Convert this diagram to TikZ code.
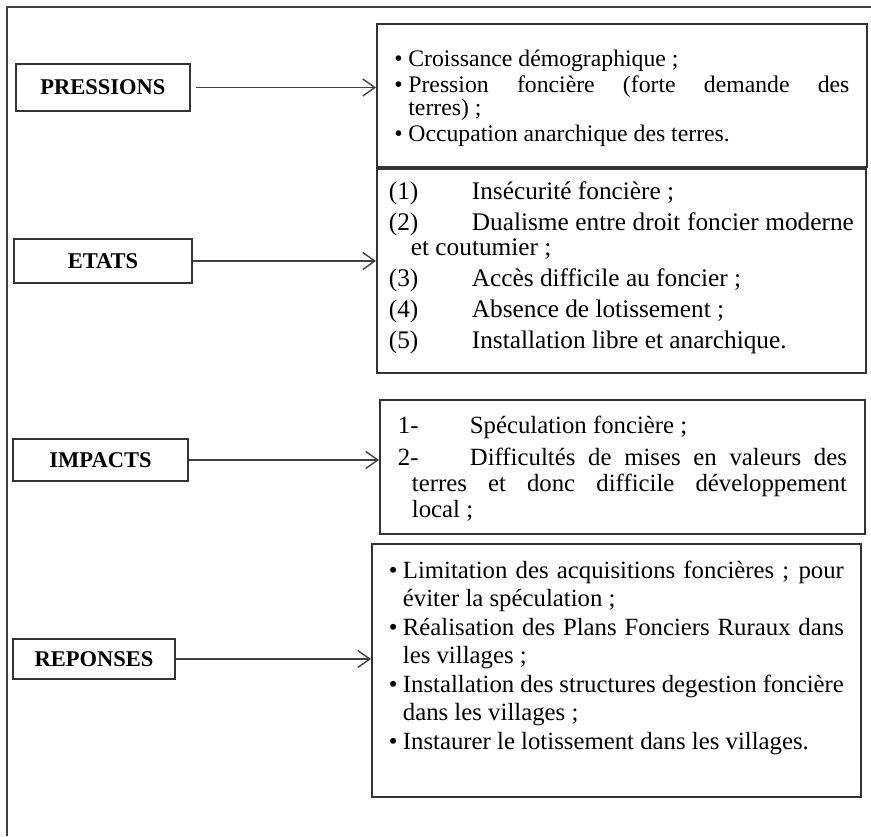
\documentclass[tikz,border=0pt]{standalone}
\usepackage{fontspec}
\setmainfont{Liberation Serif}
\usetikzlibrary{arrows.meta,
    positioning}

% paragraphe avec etiquette et retrait des lignes suivantes
\newcommand{\ligne}[3]{\noindent\leftskip=#1\relax\hspace*{-#1}\makebox[#2][l]{#3}}

\begin{document}
\begin{tikzpicture}[
    theme/.style={draw=black!80, line width=1pt, inner sep=0pt,
      font=\fontsize{12.8}{15}\selectfont\bfseries},
    detail/.style={draw=black!80, line width=1pt, align=justify, inner ysep=0pt,
      anchor=north west},
    link/.style={draw=black!75, line width=0.8pt,
      -{Straight Barb[length=2.4mm,width=3.4mm]}}
  ]
  \useasboundingbox (0,0) rectangle (17.42,-16.72);
  % cadre
  \draw[black!75, line width=1.2pt] (0.14,-16.72) -- (0.14,-0.14) -- (17.42,-0.14);

  % themes
  \node[theme, minimum width=3.48cm, minimum height=0.94cm] (pressions) at (2.06,-1.75) {PRESSIONS};
  \node[theme, minimum width=3.56cm, minimum height=0.88cm] (etats) at (2.06,-5.22) {ETATS};
  \node[theme, minimum width=3.5cm, minimum height=0.84cm] (impacts) at (2.01,-9.2) {IMPACTS};
  \node[theme, minimum width=3.24cm, minimum height=0.8cm] (reponses) at (1.88,-13.18) {REPONSES};

  % details
  \node[detail, text width=9.1cm, inner xsep=0.35cm, text height=0.86cm, text depth=2.0cm,
    font={\fontsize{13.5}{13.4}\selectfont\setlength{\parskip}{1pt}}] (pBox) at (7.52,-0.46) {%
    \ligne{0.28cm}{0.28cm}{\textbullet}Croissance démographique ;\par
    \ligne{0.28cm}{0.28cm}{\textbullet}Pression foncière (forte demande des\linebreak terres) ;\par
    \ligne{0.28cm}{0.28cm}{\textbullet}Occupation anarchique des terres.\par};
  \node[detail, text width=9.3cm, inner xsep=0.24cm, text height=0.62cm, text depth=3.46cm,
    font={\fontsize{14.4}{14.2}\selectfont\setlength{\parskip}{3.4pt}}] (eBox) at (pBox.south west) {%
    \ligne{0.44cm}{1.66cm}{(1)}Insécurité foncière ;\par
    \ligne{0.44cm}{1.66cm}{(2)}Dualisme entre droit foncier moderne\linebreak et coutumier ;\par
    \ligne{0.44cm}{1.66cm}{(3)}Accès difficile au foncier ;\par
    \ligne{0.44cm}{1.66cm}{(4)}Absence de lotissement ;\par
    \ligne{0.44cm}{1.66cm}{(5)}Installation libre et anarchique.\par};
  \node[detail, text width=8.98cm, inner xsep=0.36cm, text height=0.68cm, text depth=2.0cm,
    font={\fontsize{14.1}{14.8}\selectfont\setlength{\parskip}{3.4pt}}] (iBox) at (7.58,-7.98) {%
    \ligne{0.28cm}{1.44cm}{1-}Spéculation foncière ;\par
    \ligne{0.28cm}{1.44cm}{2-}Difficultés de mises en valeurs des\linebreak terres et donc difficile développement\linebreak local ;\par};
  \node[detail, text width=9.1cm, inner xsep=0.34cm, text height=0.7cm, text depth=4.36cm,
    font={\fontsize{14.1}{15.9}\selectfont\setlength{\parskip}{0.6pt}}] (rBox) at (7.42,-10.86) {%
    \ligne{0.28cm}{0.28cm}{\textbullet}Limitation des acquisitions foncières ; pour\linebreak éviter la spéculation ;\par
    \ligne{0.28cm}{0.28cm}{\textbullet}Réalisation des Plans Fonciers Ruraux dans\linebreak les villages ;\par
    \ligne{0.28cm}{0.28cm}{\textbullet}Installation des structures degestion foncière\linebreak dans les villages ;\par
    \ligne{0.28cm}{0.28cm}{\textbullet}Instaurer le lotissement dans les villages.\par};

  % fleches
  \draw[link, shorten <=0.1cm] (pressions.east) -- (pressions.east -| pBox.west);
  \draw[link] (etats.east) -- (etats.east -| eBox.west);
  \draw[link] (impacts.east) -- (impacts.east -| iBox.west);
  \draw[link] (reponses.east) -- (reponses.east -| rBox.west);
\end{tikzpicture}
\end{document}
